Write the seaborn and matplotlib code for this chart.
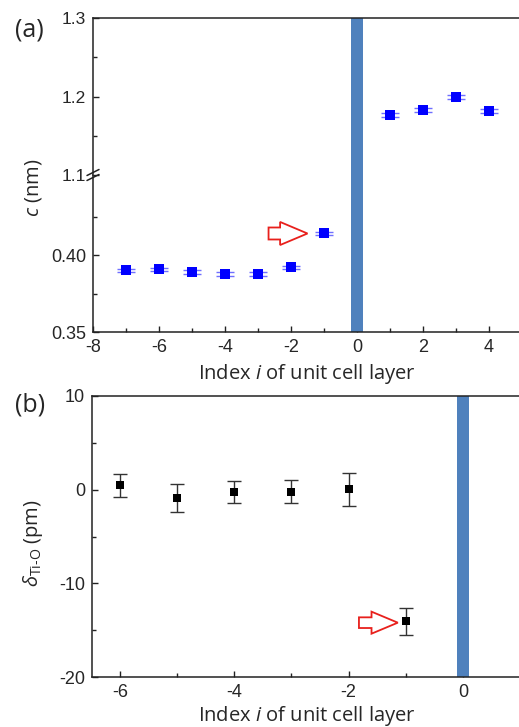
import numpy as np
import pandas as pd
import matplotlib
matplotlib.use('Agg')
import matplotlib.pyplot as plt
import seaborn as sns
from matplotlib.patches import FancyArrow

sns.set_style('ticks')
plt.rcParams['font.family'] = ['Liberation Sans', 'DejaVu Sans']
plt.rcParams['axes.unicode_minus'] = False
plt.rcParams['mathtext.fontset'] = 'custom'
plt.rcParams['mathtext.rm'] = 'Open Sans'
plt.rcParams['mathtext.it'] = 'Open Sans:italic'

# (a) c lattice parameter for each unit cell layer
layer_a = [-7, -6, -5, -4, -3, -2, -1, 1, 2, 3, 4]
c_nm = [0.3900, 0.3907, 0.3890, 0.3877, 0.3877, 0.3920, 0.4140, 1.177, 1.183, 1.199, 1.182]
c_err = [0.0012, 0.0012, 0.0012, 0.0012, 0.0012, 0.0012, 0.0012, 0.0025, 0.0025, 0.0025, 0.0025]

# (b) Ti-O displacement
layer_b = [-6, -5, -4, -3, -2, -1]
delta_pm = [0.46, -0.89, -0.25, -0.21, 0.03, -14.05]
delta_err = [1.2, 1.45, 1.15, 1.2, 1.8, 1.45]

df_a = pd.DataFrame({'i': layer_a, 'c': c_nm, 'err': c_err})
df_b = pd.DataFrame({'i': layer_b, 'd': delta_pm, 'err': delta_err})

W, H = 519, 727
fig = plt.figure(figsize=(W / 100, H / 100), dpi=100)

BAR = '#4F81BD'
LABEL_FONT = 'Open Sans'


def style_axis(ax):
    for s in ax.spines.values():
        s.set_linewidth(1.1)
        s.set_color('#222222')
    ax.spines['right'].set_visible(False)
    ax.tick_params(which='both', direction='in', width=1.0, color='#222222',
                   top=False, right=False)
    ax.tick_params(which='major', length=4.5)
    ax.tick_params(which='minor', length=3)


# ---- panel (a): broken y axis ----
left_a = 93 / W
width_a = (W - 93) / W
ax_lo = fig.add_axes([left_a, 1 - 332 / H, width_a, 157 / H])
ax_hi = fig.add_axes([left_a, 1 - 175 / H, width_a, 157 / H])

for ax in (ax_lo, ax_hi):
    style_axis(ax)
    ax.axvspan(-0.175, 0.175, color=BAR, lw=0, zorder=1)
    ax.errorbar(df_a['i'], df_a['c'], yerr=df_a['err'], fmt='none',
                ecolor='#6f6fff', elinewidth=1.0, capsize=6.8, capthick=1.0, zorder=2)
    sns.scatterplot(data=df_a, x='i', y='c', ax=ax, marker='s', s=50,
                    color='#0000ff', edgecolor='#0000ff', linewidth=0, zorder=3, legend=False)
    ax.set_xlim(-8, 4.91)
    ax.set_xlabel('')
    ax.set_ylabel('')

ax_lo.set_ylim(0.35, 0.452)
ax_lo.set_yticks([0.35, 0.40])
ax_lo.set_yticks([0.375, 0.425], minor=True)
ax_lo.set_yticklabels(['0.35', '0.40'])
ax_lo.set_xticks(np.arange(-8, 5, 2))
ax_lo.set_xticks(np.arange(-7, 5, 2), minor=True)
ax_lo.spines['top'].set_visible(False)
ax_lo.tick_params(axis='both', which='major', labelsize=13, pad=5)

ax_hi.set_ylim(1.1, 1.3)
ax_hi.set_yticks([1.1, 1.2, 1.3])
ax_hi.set_yticks([1.15, 1.25], minor=True)
ax_hi.set_yticklabels(['1.1', '1.2', '1.3'])
ax_hi.spines['bottom'].set_visible(False)
ax_hi.tick_params(axis='x', which='both', bottom=False, labelbottom=False)
ax_hi.tick_params(axis='y', which='major', labelsize=12.5, pad=5)

# break marks on the left spine
dx, dy = 6 / (W - 93), 3 / 157
for off in (-2.5 / 157, 2.5 / 157):
    ax_hi.plot([-dx, dx], [off - dy, off + dy], transform=ax_hi.transAxes,
               color='#222222', lw=1.1, clip_on=False, zorder=5)

ax_lo.add_patch(FancyArrow(-2.68, 0.414, 1.18, 0, width=0.0078, head_width=0.015,
                           head_length=0.83, length_includes_head=True,
                           facecolor='white', edgecolor='#e8201c', lw=1.3, zorder=4))

# ---- panel (b) ----
ax_b = fig.add_axes([92 / W, 1 - 677 / H, (W - 92) / W, 281 / H])
style_axis(ax_b)
ax_b.axvspan(-0.1, 0.1, color=BAR, lw=0, zorder=1)
ax_b.errorbar(df_b['i'], df_b['d'], yerr=df_b['err'], fmt='none', ecolor='#333333',
              elinewidth=1.0, capsize=4.8, capthick=1.0, zorder=2)
sns.scatterplot(data=df_b, x='i', y='d', ax=ax_b, marker='s', s=38, color='black',
                edgecolor='black', linewidth=0, zorder=3, legend=False)
ax_b.set_xlim(-6.49, 0.98)
ax_b.set_ylim(-20, 10)
ax_b.set_xticks([-6, -4, -2, 0])
ax_b.set_xticks([-5, -3, -1], minor=True)
ax_b.set_yticks([-20, -10, 0, 10])
ax_b.set_yticks([-15, -5, 5], minor=True)
ax_b.tick_params(axis='both', which='major', labelsize=13, pad=5)
ax_b.set_xlabel('')
ax_b.set_ylabel('')
ax_b.add_patch(FancyArrow(-1.82, -14.2, 0.68, 0, width=1.14, head_width=2.35,
                          head_length=0.46, length_includes_head=True,
                          facecolor='white', edgecolor='#e8201c', lw=1.3, zorder=4))

# ---- labels ----
fig.text(29 / W, 1 - 30 / H, '(a)', fontsize=18, family=LABEL_FONT, ha='center', va='center')
fig.text(30 / W, 1 - 405 / H, '(b)', fontsize=18, family=LABEL_FONT, ha='center', va='center')
fig.text(33 / W, 1 - 188 / H, r'$c$ (nm)', fontsize=14.5, family=LABEL_FONT,
         rotation=90, ha='center', va='center')
fig.text(33 / W, 1 - 543 / H, r'$\delta_{\mathrm{Ti}\text{-}\mathrm{O}}$ (pm)', fontsize=14.5,
         family=LABEL_FONT, rotation=90, ha='center', va='center')
fig.text(307 / W, 1 - 374 / H, r'Index $i$ of unit cell layer', fontsize=14.5,
         family=LABEL_FONT, ha='center', va='center')
fig.text(307 / W, 1 - 716 / H, r'Index $i$ of unit cell layer', fontsize=14.5,
         family=LABEL_FONT, ha='center', va='center')

fig.savefig('out.png', dpi=100, facecolor='white')
